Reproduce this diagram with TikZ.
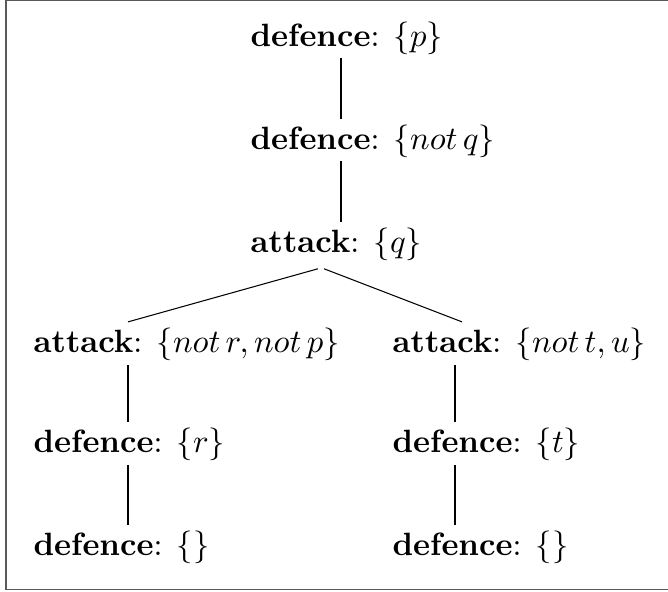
\documentclass[tikz,border=0pt]{standalone}
\usetikzlibrary{calc}
\begin{document}
\begin{tikzpicture}[x=0.335pt, y=-0.335pt,
  lbl/.style={anchor=base west, inner sep=0pt, font=\fontsize{10.8}{13}\selectfont},
  link/.style={line width=0.35pt, black},
  framebox/.style={line width=0.5pt, draw=black!65}]
\useasboundingbox (0,0) rectangle (668,592);
% frame around the tree
\draw[framebox] (6,0.4) -- (700,0.4);
\draw[framebox] (6,0) -- (6,589.5) -- (700,589.5);

% nodes of the tree
\node[lbl] (d1) at (250,47)  {\textbf{defence}: $\{p\}$};
\node[lbl] (d2) at (250,150) {\textbf{defence}: $\{not\,q\}$};
\node[lbl] (a1) at (250,253) {\textbf{attack}: $\{q\}$};
\node[lbl] (a2) at (33,353)  {\textbf{attack}: $\{not\,r, not\,p\}$};
\node[lbl] (a3) at (392,353) {\textbf{attack}: $\{not\,t, u\}$};
\node[lbl] (d3) at (33,453)  {\textbf{defence}: $\{r\}$};
\node[lbl] (d4) at (392,453) {\textbf{defence}: $\{t\}$};
\node[lbl] (d5) at (33,556)  {\textbf{defence}: $\{\}$};
\node[lbl] (d6) at (392,556) {\textbf{defence}: $\{\}$};

% connectors
\draw[link] ($(d1.south west)+(91,2)$) -- ($(d2.north west)+(91,-6)$);
\draw[link] ($(d2.south west)+(91,2)$) -- ($(a1.north west)+(91,-6)$);
\draw[link] ($(a1.south west)+(68,7)$) -- ($(a2.north west)+(95,-6)$);
\draw[link] ($(a1.south west)+(74,7)$) -- ($(a3.north west)+(70,-6)$);
\draw[link] ($(a2.south west)+(95,3)$) -- ($(d3.north west)+(95,-6)$);
\draw[link] ($(d3.south west)+(95,3)$) -- ($(d5.north west)+(95,-6)$);
\draw[link] ($(a3.south west)+(63,3)$) -- ($(d4.north west)+(63,-6)$);
\draw[link] ($(d4.south west)+(63,3)$) -- ($(d6.north west)+(63,-6)$);
\end{tikzpicture}
\end{document}
